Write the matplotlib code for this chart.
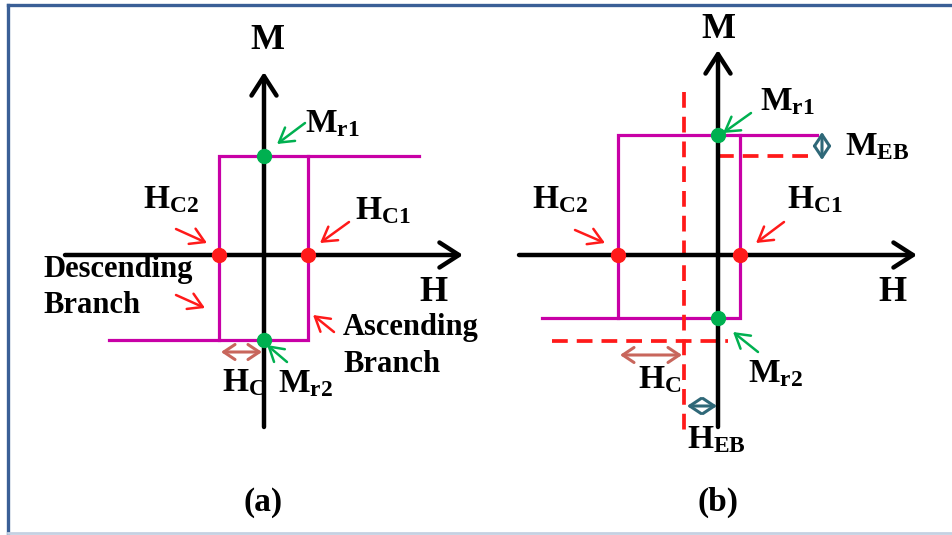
import matplotlib
matplotlib.use("Agg")
import matplotlib.pyplot as plt
from matplotlib.lines import Line2D

plt.rcParams['font.family'] = ['Liberation Serif', 'DejaVu Serif']
plt.rcParams['font.weight'] = 'bold'
plt.rcParams['mathtext.fontset'] = 'custom'
plt.rcParams['mathtext.rm'] = 'Liberation Serif:bold'
plt.rcParams['mathtext.bf'] = 'Liberation Serif:bold'
plt.rcParams['mathtext.it'] = 'Liberation Serif:bold'

# ---------------- schematic data (units relative to axis origin) ----------------
# Panel (a): symmetric loop
a_axis_H = [-199, 199]
a_axis_M = [-172, 183]
a_loop_H = [155, -45, -45, -155]          # upper path then down the left branch
a_loop_M = [99, 99, -85, -85]
a_asc_H = [-45, 44, 44]                   # lower path then up the right branch
a_asc_M = [-85, -85, 99]
a_hc_pts = [-45, 44]                      # coercive points on H axis
a_mr_pts = [99, -85]                      # remanence points on M axis
a_hc_span = [-43, -2]

# Panel (b): shifted loop (exchange bias)
b_axis_H = [-199, 199]
b_axis_M = [-172, 205]
b_loop_H = [99, -100, -100, -176]
b_loop_M = [120, 120, -63, -63]
b_asc_H = [-100, 22, 22]
b_asc_M = [-63, -63, 120]
b_hc_pts = [-100, 22]
b_mr_pts = [120, -63]
b_center_H = -34
b_center_M_span = [163, -175]
b_meb_level = 99
b_meb_H_span = [0, 95]
b_low_level = -86
b_low_H_span = [-166, 10]
b_meb_arrow = [123, 95]
b_hc_span = [-98, -36]
b_heb_span = [-31, -1]

MAG = '#c800a6'
RED = '#ff1a1a'
GREEN = '#00b050'
TEAL = '#2f6878'
ROSE = '#c8665c'

fig = plt.figure(figsize=(9.52, 5.35), dpi=100)
fig.patch.set_facecolor('white')


def make_ax(left, x0, y0):
    ax = fig.add_axes([left, 0, 0.5, 1])
    ax.set_xlim(-x0, 476 - x0)
    ax.set_ylim(-(535 - y0), y0)
    ax.axis('off')
    return ax


def arrow(ax, start, end, color, lw=1.8, style='->, head_length=0.5, head_width=0.3',
          ms=20, z=6):
    ax.annotate('', xy=end, xytext=start,
                arrowprops=dict(arrowstyle=style, color=color, lw=lw,
                                shrinkA=0, shrinkB=0, mutation_scale=ms),
                zorder=z)


def darrow(ax, start, end, color):
    arrow(ax, start, end, color, lw=2.2,
          style='<->, head_length=0.45, head_width=0.3', ms=18)


def axes_cross(ax, hspan, mspan):
    ax.annotate('', xy=(hspan[1], 0), xytext=(hspan[0], 0),
                arrowprops=dict(arrowstyle='->, head_length=0.7, head_width=0.45',
                                color='black', lw=3.2, shrinkA=0, shrinkB=0,
                                mutation_scale=20), zorder=5)
    ax.annotate('', xy=(0, mspan[1]), xytext=(0, mspan[0]),
                arrowprops=dict(arrowstyle='->, head_length=0.7, head_width=0.45',
                                color='black', lw=3.2, shrinkA=0, shrinkB=0,
                                mutation_scale=20), zorder=5)


FS = 24
BR = 22

# ---------------- panel (a) ----------------
ax = make_ax(0.0, 264, 255)
ax.plot(a_loop_H, a_loop_M, color=MAG, lw=2.3, zorder=3, solid_joinstyle='miter')
ax.plot(a_asc_H, a_asc_M, color=MAG, lw=2.3, zorder=3, solid_joinstyle='miter')
axes_cross(ax, a_axis_H, a_axis_M)
ax.plot(a_hc_pts, [0, 0], 'o', color=RED, ms=10, zorder=7)
ax.plot([0, 0], a_mr_pts, 'o', color=GREEN, ms=10, zorder=7)

ax.text(3, 214, 'M', fontsize=26, ha='center', va='center')
ax.text(169, -38, 'H', fontsize=26, ha='center', va='center')
ax.text(41, 131, r'$\mathrm{M_{r1}}$', fontsize=FS, ha='left', va='center')
arrow(ax, (41, 132), (13, 111), GREEN)
ax.text(-121, 55, r'$\mathrm{H_{C2}}$', fontsize=FS, ha='left', va='center')
arrow(ax, (-88, 26), (-57, 12), RED)
ax.text(91, 44, r'$\mathrm{H_{C1}}$', fontsize=FS, ha='left', va='center')
arrow(ax, (85, 33), (56, 12), RED)
ax.text(-221, -15, 'Descending', fontsize=BR, ha='left', va='center')
ax.text(-221, -51, 'Branch', fontsize=BR, ha='left', va='center')
arrow(ax, (-88, -40), (-59, -53), RED)
ax.text(79, -73, 'Ascending', fontsize=BR, ha='left', va='center')
ax.text(79, -110, 'Branch', fontsize=BR, ha='left', va='center')
arrow(ax, (70, -77), (49, -60), RED)
darrow(ax, (a_hc_span[0], -97), (a_hc_span[1], -97), ROSE)
ax.text(-42, -128, r'$\mathrm{H_{C}}$', fontsize=FS, ha='left', va='center', zorder=2)
ax.text(14, -129, r'$\mathrm{M_{r2}}$', fontsize=FS, ha='left', va='center')
arrow(ax, (23, -107), (3, -90), GREEN)
ax.text(-1, -247, '(a)', fontsize=24, ha='center', va='center')

# ---------------- panel (b) ----------------
ax = make_ax(0.5, 718 - 476, 255)
ax.plot(b_loop_H, b_loop_M, color=MAG, lw=2.3, zorder=3, solid_joinstyle='miter')
ax.plot(b_asc_H, b_asc_M, color=MAG, lw=2.3, zorder=3, solid_joinstyle='miter')
DASH = (0, (4.2, 2.4))
ax.plot([b_center_H, b_center_H], b_center_M_span, color=RED, lw=2.7, ls=DASH, zorder=4)
ax.plot(b_meb_H_span, [b_meb_level] * 2, color=RED, lw=2.7, ls=DASH, zorder=4)
ax.plot(b_low_H_span, [b_low_level] * 2, color=RED, lw=2.7, ls=DASH, zorder=4)
axes_cross(ax, b_axis_H, b_axis_M)
ax.plot(b_hc_pts, [0, 0], 'o', color=RED, ms=10, zorder=7)
ax.plot([0, 0], b_mr_pts, 'o', color=GREEN, ms=10, zorder=7)

ax.text(0, 225, 'M', fontsize=26, ha='center', va='center')
ax.text(174, -38, 'H', fontsize=26, ha='center', va='center')
ax.text(42, 153, r'$\mathrm{M_{r1}}$', fontsize=FS, ha='left', va='center')
arrow(ax, (33, 142), (5, 122), GREEN)
ax.text(127, 108, r'$\mathrm{M_{EB}}$', fontsize=FS, ha='left', va='center')
darrow(ax, (104, b_meb_arrow[0]), (104, b_meb_arrow[1]), TEAL)
ax.text(-186, 55, r'$\mathrm{H_{C2}}$', fontsize=FS, ha='left', va='center')
arrow(ax, (-143, 25), (-113, 12), RED)
ax.text(69, 55, r'$\mathrm{H_{C1}}$', fontsize=FS, ha='left', va='center')
arrow(ax, (66, 33), (38, 12), RED)
darrow(ax, (b_hc_span[0], -100), (b_hc_span[1], -100), ROSE)
ax.text(-80, -125, r'$\mathrm{H_{C}}$', fontsize=FS, ha='left', va='center')
darrow(ax, (b_heb_span[0], -151), (b_heb_span[1], -151), TEAL)
ax.text(-31, -185, r'$\mathrm{H_{EB}}$', fontsize=FS, ha='left', va='center')
ax.text(30, -119, r'$\mathrm{M_{r2}}$', fontsize=FS, ha='left', va='center')
arrow(ax, (40, -97), (15, -77), GREEN)
ax.text(0, -247, '(b)', fontsize=24, ha='center', va='center')

# ---------------- frame ----------------
fig.add_artist(Line2D([8 / 952, 8 / 952], [0, 1 - 5 / 535], transform=fig.transFigure,
                      color='#3a5f96', lw=2.4))
fig.add_artist(Line2D([8 / 952, 1], [1 - 5 / 535, 1 - 5 / 535], transform=fig.transFigure,
                      color='#3a5f96', lw=2.4))
fig.add_artist(Line2D([8 / 952, 1], [2 / 535, 2 / 535], transform=fig.transFigure,
                      color='#c5d1e2', lw=2))

fig.savefig('out.png', dpi=100, facecolor='white')
